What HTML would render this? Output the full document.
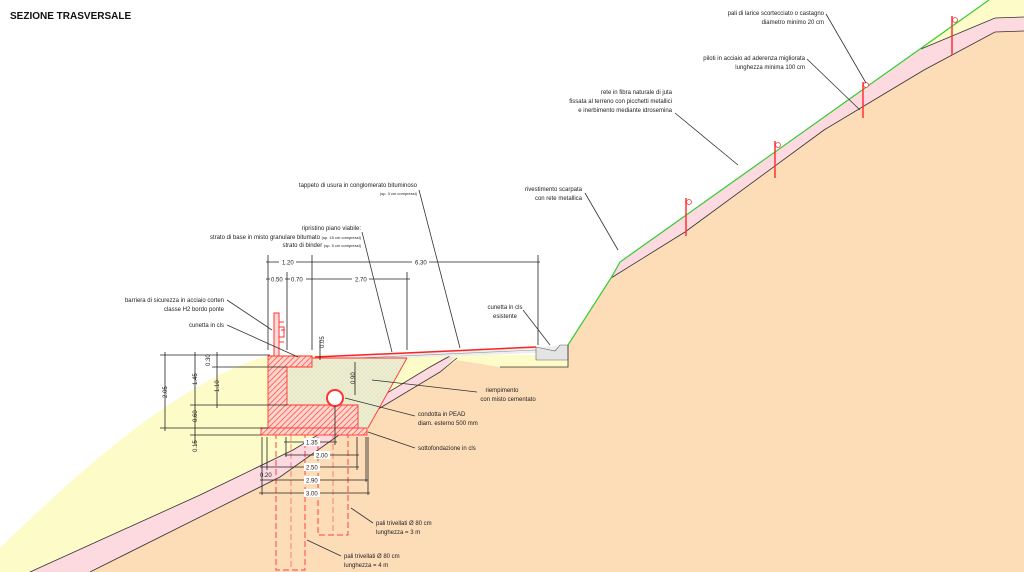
<!DOCTYPE html>
<html><head><meta charset="utf-8"><style>
html,body{margin:0;padding:0;background:#fff;}
svg{display:block;}
text{font-family:"Liberation Sans",sans-serif;font-size:6px;fill:#222;}
.s{font-size:4px;}
.d{stroke:#222;stroke-width:0.8;fill:none;}
.l{stroke:#333;stroke-width:0.8;fill:none;}
</style></head><body>
<svg width="1024" height="572" viewBox="0 0 1024 572" xmlns="http://www.w3.org/2000/svg">
<defs>
<pattern id="h" width="4" height="4" patternUnits="userSpaceOnUse" patternTransform="rotate(45)">
<rect width="4" height="4" fill="#ffd6cc"/><line x1="0" y1="0" x2="0" y2="4" stroke="#f33" stroke-width="1.3"/></pattern>
<pattern id="x" width="4" height="4" patternUnits="userSpaceOnUse">
<rect width="4" height="4" fill="#eeeed2"/><path d="M0 0L4 4M4 0L0 4" stroke="#d8d8b8" stroke-width="0.4"/></pattern>
</defs>
<!-- peach ground -->
<path d="M90 572 L200 517 L280 477 L360 420 L440 372 L457 360 L500 367 L568 367 L568 345 L611 278 L685 232 L824 130 L924 70 L995 32 L1024 31 L1024 572 Z" fill="#fddcb8"/>
<!-- yellow left -->
<path d="M0 548 C80 470 180 380 270 355 L568 355 L568 367 L500 367 L457 360 L440 372 L360 420 L280 477 L200 517 L90 572 L0 572 Z" fill="#fdfcc8"/>
<!-- pink band left -->
<path d="M30 572 L200 495 L293 450 L430 367 L445 357 L455 357 L440 372 L360 420 L280 477 L200 517 L90 572 Z" fill="#fdd9e0"/>
<path d="M30 572 L200 495 L293 450 L430 367 L450 356" class="l"/>
<path d="M90 572 L200 517 L280 477 L360 420 L440 372 L457 358" class="l"/>
<!-- pink band right -->
<path d="M611 278 L620 262 L921 49 L995 18 L1024 17 L1024 31 L995 32 L924 70 L824 130 L685 232 Z" fill="#fdd9e0"/>
<path d="M921 49 L995 18 L1024 17 L1024 0 L989 0 Z" fill="#fdfcc8"/>
<path d="M921 49 L995 18 L1024 17" class="l"/>
<path d="M611 278 L685 232 L824 130 L924 70 L995 32 L1024 31" class="l"/>
<path d="M568 345 L611 278 L620 262 L989 0" stroke="#3c3" stroke-width="1.2" fill="none"/>
<!-- stakes -->
<g stroke="#f33" stroke-width="1.5" fill="none">
<line x1="952" y1="16" x2="952" y2="55"/><circle cx="955" cy="20" r="2.5" stroke-width="0.8" fill="#fff"/>
<line x1="863" y1="82" x2="863" y2="118"/><circle cx="866" cy="85" r="2.5" stroke-width="0.8" fill="#fff"/>
<line x1="775" y1="141" x2="775" y2="178"/><circle cx="778" cy="145" r="2.5" stroke-width="0.8" fill="#fff"/>
<line x1="686" y1="198" x2="686" y2="236"/><circle cx="689" cy="202" r="2.5" stroke-width="0.8" fill="#fff"/>
</g>
<!-- road -->
<path d="M312 357 L560 346 L560 352 L407 358 L312 358 Z" fill="#eee"/>
<path d="M315 357 L450 351 L536 347" stroke="#f22" stroke-width="1.5" fill="none"/>
<path d="M312 360 L536 350" stroke="#999" stroke-width="0.6"/>
<path d="M536 347 L555 351 L560 345 L568 345 L568 360 L536 360 Z" fill="#e4e4e4" stroke="#666" stroke-width="0.6"/>
<path d="M500 367 L568 367 L568 345" class="l"/>
<!-- fill -->
<path d="M287 367 L312 367 L312 358 L407 358 L368 428 L358 428 L358 405 L287 405 Z" fill="url(#x)"/>
<path d="M407 358 L368 428" stroke="#f33" stroke-width="0.9"/>
<path d="M312 358 L407 358" stroke="#f33" stroke-width="0.9"/>
<!-- wall -->
<path d="M268 356 L312 356 L312 367 L287 367 L287 405 L358 405 L358 428 L268 428 Z" fill="url(#h)" stroke="#f33" stroke-width="0.9"/>
<rect x="261" y="428" width="106" height="7" fill="url(#h)" stroke="#f33" stroke-width="0.9"/>
<circle cx="335" cy="398" r="8" fill="#fff" stroke="#f33" stroke-width="2"/>
<!-- barrier -->
<g stroke="#f33" stroke-width="1" fill="none">
<rect x="274" y="313" width="5" height="43" fill="#fdd"/>
<path d="M279 322 L284 322 M279 327 L284 327 L284 337 L279 337 M281 330 L285 330 M279 342 L284 342"/>
</g>
<!-- piles -->
<g stroke="#f44" stroke-width="1" stroke-dasharray="6 3" fill="none">
<rect x="276" y="435" width="29" height="135"/>
<rect x="318" y="435" width="30" height="100"/>
</g>
<line x1="291" y1="435" x2="291" y2="570" stroke="#f44" stroke-width="0.6" stroke-dasharray="6 3"/>
<line x1="333" y1="435" x2="333" y2="535" stroke="#f44" stroke-width="0.6" stroke-dasharray="6 3"/>
<!-- dimensions -->
<g class="d">
<line x1="266" y1="262" x2="540" y2="262"/>
<line x1="266" y1="279" x2="410" y2="279"/>
<line x1="268" y1="255" x2="268" y2="350"/>
<line x1="287" y1="272" x2="287" y2="350"/>
<line x1="312" y1="255" x2="312" y2="350"/>
<line x1="407" y1="272" x2="407" y2="350"/>
<line x1="538" y1="255" x2="538" y2="345"/>
<line x1="160" y1="355" x2="270" y2="355"/>
<line x1="212" y1="367" x2="287" y2="367"/>
<line x1="190" y1="405" x2="287" y2="405"/>
<line x1="160" y1="428" x2="268" y2="428"/>
<line x1="190" y1="435" x2="261" y2="435"/>
<line x1="165" y1="352" x2="165" y2="431"/>
<line x1="195" y1="352" x2="195" y2="445"/>
<line x1="217" y1="352" x2="217" y2="408"/>
<line x1="355" y1="362" x2="355" y2="395"/>
<line x1="320" y1="340" x2="320" y2="360"/>
<line x1="284" y1="442" x2="337" y2="442"/>
<line x1="285" y1="455" x2="359" y2="455"/>
<line x1="260" y1="467" x2="359" y2="467"/>
<line x1="260" y1="480" x2="368" y2="480"/>
<line x1="259" y1="493" x2="370" y2="493"/>
<line x1="262" y1="437" x2="262" y2="495"/>
<line x1="267" y1="437" x2="267" y2="470"/>
<line x1="286" y1="437" x2="286" y2="457"/>
<line x1="335" y1="406" x2="335" y2="445"/>
<line x1="357" y1="437" x2="357" y2="470"/>
<line x1="366" y1="437" x2="366" y2="482"/>
<line x1="368" y1="437" x2="368" y2="495"/>
</g>
<g fill="#fff">
<rect x="279" y="258" width="17" height="8"/><rect x="412" y="258" width="17" height="8"/>
<rect x="270" y="275" width="15" height="8"/><rect x="290" y="275" width="16" height="8"/><rect x="352" y="275" width="17" height="8"/>
<rect x="304" y="438" width="16" height="8"/><rect x="314" y="451" width="16" height="8"/><rect x="304" y="463" width="16" height="8"/><rect x="304" y="476" width="16" height="8"/><rect x="304" y="489" width="16" height="8"/>
</g>
<g>
<text x="282" y="264.5">1.20</text><text x="415" y="264.5">6.30</text>
<text x="271" y="281.5">0.50</text><text x="291" y="281.5">0.70</text><text x="355" y="281.5">2.70</text>
<text x="306" y="444.5">1.35</text><text x="316" y="457.5">2.00</text><text x="306" y="469.5">2.50</text><text x="306" y="482.5">2.90</text><text x="306" y="495.5">3.00</text>
<text x="260" y="477">0.20</text>
<text transform="translate(167,398) rotate(-90)">2.05</text>
<text transform="translate(197,385) rotate(-90)">1.45</text>
<text transform="translate(197,422) rotate(-90)">0.60</text>
<text transform="translate(197,452) rotate(-90)">0.15</text>
<text transform="translate(210,366) rotate(-90)">0.30</text>
<text transform="translate(219,392) rotate(-90)">1.10</text>
<text transform="translate(355,384) rotate(-90)">0.90</text>
<text transform="translate(324,348) rotate(-90)">0.05</text>
</g>
<!-- leaders -->
<g class="l">
<path d="M826 14 L866 83"/><path d="M807 59 L860 110"/><path d="M675 113 L738 165"/>
<path d="M585 193 L618 250"/><path d="M419 190 L460 348"/><path d="M362 232 L392 352"/>
<path d="M227 300 L272 330"/><path d="M227 325 L298 357"/><path d="M523 310 L550 345"/>
<path d="M477 392 L372 380"/><path d="M415 416 L345 398"/><path d="M415 448 L368 432"/>
<path d="M373 523 L351 508"/><path d="M341 556 L307 540"/>
</g>
<!-- labels -->
<text x="10" y="19" style="font-size:10px;font-weight:bold;fill:#111">SEZIONE TRASVERSALE</text>
<g text-anchor="end">
<text x="824" y="15">pali di larice scortecciato o castagno</text>
<text x="824" y="24">diametro minimo 20 cm</text>
<text x="805" y="60">piloti in acciaio ad aderenza migliorata</text>
<text x="805" y="69">lunghezza minima 100 cm</text>
<text x="672" y="94">rete in fibra naturale di juta</text>
<text x="672" y="103">fissata al terreno con picchetti metallici</text>
<text x="672" y="112">e inerbimento mediante idrosemina</text>
<text x="582" y="191">rivestimento scarpata</text>
<text x="582" y="200">con rete metallica</text>
<text x="417" y="187">tappeto di usura in conglomerato bituminoso</text>
<text x="417" y="195" class="s">(sp. 3 cm compressi)</text>
<text x="361" y="230">ripristino piano viabile:</text>
<text x="361" y="239">strato di base in misto granulare bitumato <tspan class="s">(sp. 15 cm compressi)</tspan></text>
<text x="361" y="247">strato di binder <tspan class="s">(sp. 5 cm compressi)</tspan></text>
<text x="224" y="302">barriera di sicurezza in acciaio corten</text>
<text x="224" y="311">classe H2 bordo ponte</text>
<text x="224" y="327">cunetta in cls</text>
</g>
<g text-anchor="middle">
<text x="505" y="309">cunetta in cls</text>
<text x="505" y="318">esistente</text>
<text x="502" y="392">riempimento</text>
<text x="508" y="401">con misto cementato</text>
</g>
<text x="418" y="416">condotta in PEAD</text>
<text x="418" y="425">diam. esterno 500 mm</text>
<text x="418" y="450">sottofondazione in cls</text>
<text x="376" y="525">pali trivellati Ø 80 cm</text>
<text x="376" y="534">lunghezza = 3 m</text>
<text x="344" y="558">pali trivellati Ø 80 cm</text>
<text x="344" y="567">lunghezza = 4 m</text>
</svg>
</body></html>
